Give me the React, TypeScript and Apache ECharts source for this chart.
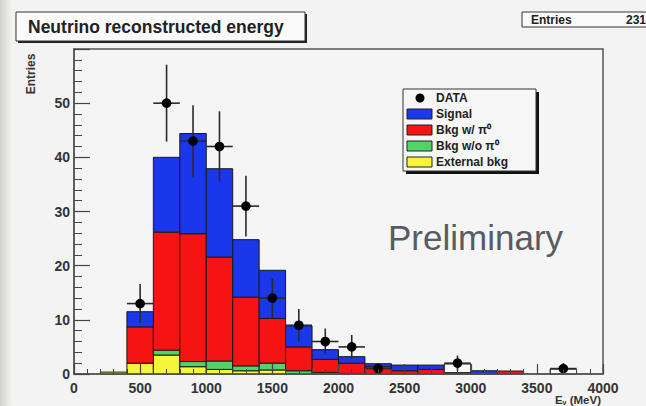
import React, { useEffect, useRef } from "react";
import * as echarts from "echarts";

// Histogram bins (lower edges, MeV) and width
const binLow = [200, 400, 600, 800, 1000, 1200, 1400, 1600, 1800, 2000, 2200, 2400, 2600, 2800, 3000, 3200, 3400, 3600];
const binWidth = 200;

// Stacked MC components (entries per bin), bottom to top
const externalBkg = [0.35, 2.0, 3.5, 1.35, 0.85, 0.6, 0.75, 0, 0, 0, 0, 0, 0, 0, 0, 0, 0, 0];
const bkgNoPi0 = [0, 0, 0.9, 0.95, 1.55, 0.9, 1.25, 0.6, 0.3, 0.1, 0, 0, 0, 0, 0, 0, 0, 0];
const bkgPi0 = [0, 6.7, 21.8, 23.6, 19.2, 12.7, 8.25, 4.4, 2.4, 1.9, 1.35, 0.6, 0.85, 0.25, 0, 0.55, 0, 0];
const signal = [0, 2.8, 13.8, 18.5, 16.3, 10.6, 8.9, 3.9, 1.8, 1.2, 0.55, 1.05, 0.8, 0, 0.6, 0, 0, 0];
const otherMC = [0, 0, 0, 0, 0, 0, 0, 0, 0, 0, 0, 0, 0, 1.6, 0, 0, 0, 0.9];

// Data points
const dataX = [500, 700, 900, 1100, 1300, 1500, 1700, 1900, 2100, 2300, 2900, 3700];
const dataY = [13, 50, 43, 42, 31, 14, 9, 6, 5, 1, 2, 1];
const dataErr = [3.6, 7.1, 6.6, 6.5, 5.6, 3.7, 3.0, 2.4, 2.2, 1.0, 1.4, 1.0];
const dataXErr = 100;

const legendNames = ["DATA", "Signal", "Bkg w/ π⁰", "Bkg w/o π⁰", "External bkg"];

const FONT = "Liberation Sans, Arial, Helvetica, sans-serif";

export default function App() {
  const ref = useRef<HTMLDivElement>(null);
  useEffect(() => {
    const chart = echarts.init(ref.current!, null, { renderer: "svg" });

    const layers = [
      { name: "External bkg", values: externalBkg, color: "#f7f53a" },
      { name: "Bkg w/o π⁰", values: bkgNoPi0, color: "#52d267" },
      { name: "Bkg w/ π⁰", values: bkgPi0, color: "#f41414" },
      { name: "Signal", values: signal, color: "#1b37ea" },
      { name: "Other", values: otherMC, color: "#f8f8f8" },
    ];
    const base = binLow.map(() => 0);
    const series: any[] = [];
    layers.forEach((layer) => {
      const data: number[][] = [];
      binLow.forEach((lo, i) => {
        const v = layer.values[i];
        if (v > 0) data.push([lo, lo + binWidth, base[i], base[i] + v]);
        base[i] += v;
      });
      const color = layer.color;
      series.push({
        type: "custom",
        name: layer.name,
        coordinateSystem: "cartesian2d",
        data,
        encode: { x: [0, 1], y: [2, 3] },
        silent: true,
        z: 2,
        renderItem: (params: any, api: any) => {
          const a = api.coord([api.value(0), api.value(2)]);
          const b = api.coord([api.value(1), api.value(3)]);
          return {
            type: "rect",
            shape: { x: a[0], y: b[1], width: b[0] - a[0], height: a[1] - b[1] },
            style: { fill: color, stroke: "#1a1a1a", lineWidth: 1 },
          };
        },
      });
    });

    series.push({
      type: "custom",
      name: "DATA",
      coordinateSystem: "cartesian2d",
      data: dataX.map((x, i) => [x, dataY[i], dataY[i] - dataErr[i], dataY[i] + dataErr[i]]),
      encode: { x: 0, y: [1, 2, 3] },
      silent: true,
      z: 4,
      renderItem: (params: any, api: any) => {
        const x = api.value(0);
        const y = api.value(1);
        const c = api.coord([x, y]);
        const lo = api.coord([x, api.value(2)]);
        const hi = api.coord([x, api.value(3)]);
        const l = api.coord([x - dataXErr, y]);
        const r = api.coord([x + dataXErr, y]);
        return {
          type: "group",
          children: [
            { type: "line", shape: { x1: c[0], y1: hi[1], x2: c[0], y2: lo[1] }, style: { stroke: "#2a2a2a", lineWidth: 1.6 } },
            { type: "line", shape: { x1: l[0], y1: c[1], x2: r[0], y2: c[1] }, style: { stroke: "#2a2a2a", lineWidth: 1.6 } },
            { type: "circle", shape: { cx: c[0], cy: c[1], r: 4.8 }, style: { fill: "#000" } },
          ],
        };
      },
    });

    const swatchColors = [null, "#1b37ea", "#f41414", "#52d267", "#f7f53a"];
    const legendChildren: any[] = [
      { type: "rect", shape: { x: 406, y: 92, width: 133, height: 82 }, style: { fill: "#111" } },
      { type: "rect", shape: { x: 403, y: 89, width: 133, height: 82 }, style: { fill: "#f6f6f6", stroke: "#333", lineWidth: 1 } },
    ];
    legendNames.forEach((name, i) => {
      const cy = 98 + i * 16;
      const col = swatchColors[i];
      if (col) {
        legendChildren.push({
          type: "rect",
          shape: { x: 407, y: cy - 5, width: 25, height: 10 },
          style: { fill: col, stroke: "#222", lineWidth: 1 },
        });
      } else {
        legendChildren.push({ type: "circle", shape: { cx: 420, cy, r: 4.5 }, style: { fill: "#000" } });
      }
      legendChildren.push({
        type: "text",
        x: 436,
        y: cy,
        style: { text: name, fontSize: 12, fontWeight: "bold", fontFamily: FONT, fill: "#222", verticalAlign: "middle" },
      });
    });

    const option: any = {
      animation: false,
      backgroundColor: "#f3f3f3",
      grid: {
        left: 74,
        right: 43,
        top: 49,
        bottom: 32,
        containLabel: false,
        show: true,
        borderColor: "#555",
        borderWidth: 1.5,
        backgroundColor: "#f5f5f5",
      },
      xAxis: {
        type: "value",
        min: 0,
        max: 4000,
        interval: 500,
        z: 5,
        axisLine: { show: true, lineStyle: { color: "#555", width: 1.5 } },
        axisTick: { show: true, inside: true, length: 10, lineStyle: { color: "#444", width: 1.2 } },
        minorTick: { show: true, splitNumber: 5, length: 5, lineStyle: { color: "#444", width: 1 } },
        splitLine: { show: false },
        axisLabel: {
          fontSize: 14,
          lineHeight: 14,
          fontWeight: "bold",
          color: "#333",
          fontFamily: FONT,
          margin: 7,
          formatter: (v: number) => String(v),
        },
      },
      yAxis: {
        type: "value",
        min: 0,
        max: 60,
        interval: 10,
        z: 5,
        axisLine: { show: true, lineStyle: { color: "#555", width: 1.5 } },
        axisTick: { show: true, inside: true, length: 16, lineStyle: { color: "#444", width: 1.2 } },
        minorTick: { show: true, splitNumber: 5, length: 8, lineStyle: { color: "#444", width: 1 } },
        splitLine: { show: false },
        axisLabel: {
          fontSize: 14,
          fontWeight: "bold",
          color: "#333",
          fontFamily: FONT,
          margin: 4,
          showMaxLabel: false,
          formatter: (v: number) => String(v),
        },
      },
      series,
      graphic: [
        {
          type: "rect",
          shape: { x: 0, y: 0, width: 12, height: 406 },
          style: {
            fill: new echarts.graphic.LinearGradient(0, 0, 1, 0, [
              { offset: 0, color: "#d2d2cd" },
              { offset: 1, color: "#f3f3f3" },
            ]),
          },
          z: -1,
        },
        // Title box
        { type: "rect", shape: { x: 18, y: 14, width: 289, height: 29 }, style: { fill: "#222" } },
        { type: "rect", shape: { x: 16, y: 12, width: 289, height: 29 }, style: { fill: "#fafafa", stroke: "#333", lineWidth: 1 } },
        {
          type: "text",
          x: 28,
          y: 27,
          style: { text: "Neutrino reconstructed energy", fontSize: 17.5, fontWeight: "bold", fontFamily: FONT, fill: "#222", verticalAlign: "middle" },
        },
        // Entries box
        { type: "rect", shape: { x: 522, y: 12, width: 140, height: 15 }, style: { fill: "#fafafa", stroke: "#333", lineWidth: 1 } },
        {
          type: "text",
          x: 531,
          y: 19.5,
          style: { text: "Entries", fontSize: 12, fontWeight: "bold", fontFamily: FONT, fill: "#222", verticalAlign: "middle" },
        },
        {
          type: "text",
          x: 626,
          y: 19.5,
          style: { text: "231", fontSize: 12, fontWeight: "bold", fontFamily: FONT, fill: "#222", verticalAlign: "middle" },
        },
        // Legend
        { type: "group", children: legendChildren, z: 10 },
        // Preliminary
        {
          type: "text",
          x: 388,
          y: 237,
          style: { text: "Preliminary", fontSize: 35, fontFamily: FONT, fill: "#575c63", verticalAlign: "middle" },
          z: 10,
        },
        // Y axis name
        {
          type: "text",
          x: 31,
          y: 74,
          rotation: Math.PI / 2,
          style: { text: "Entries", fontSize: 12, fontWeight: "bold", fontFamily: FONT, fill: "#333", align: "center", verticalAlign: "middle" },
        },
        // X axis name
        {
          type: "text",
          x: 601,
          y: 406,
          style: {
            text: "{a|E}{b|ν}{a| (MeV)}",
            align: "right",
            verticalAlign: "bottom",
            rich: {
              a: { fontSize: 11.5, lineHeight: 12, fontWeight: "bold", fontFamily: FONT, fill: "#333" },
              b: { fontSize: 7, lineHeight: 12, fontWeight: "bold", fontFamily: FONT, fill: "#333", padding: [4, 0, 0, 0] },
            },
          },
        },
      ],
    };
    chart.setOption(option);
    return () => chart.dispose();
  }, []);
  return <div ref={ref} style={{ position: "fixed", left: 0, top: 0, width: 646, height: 406 }} />;
}
